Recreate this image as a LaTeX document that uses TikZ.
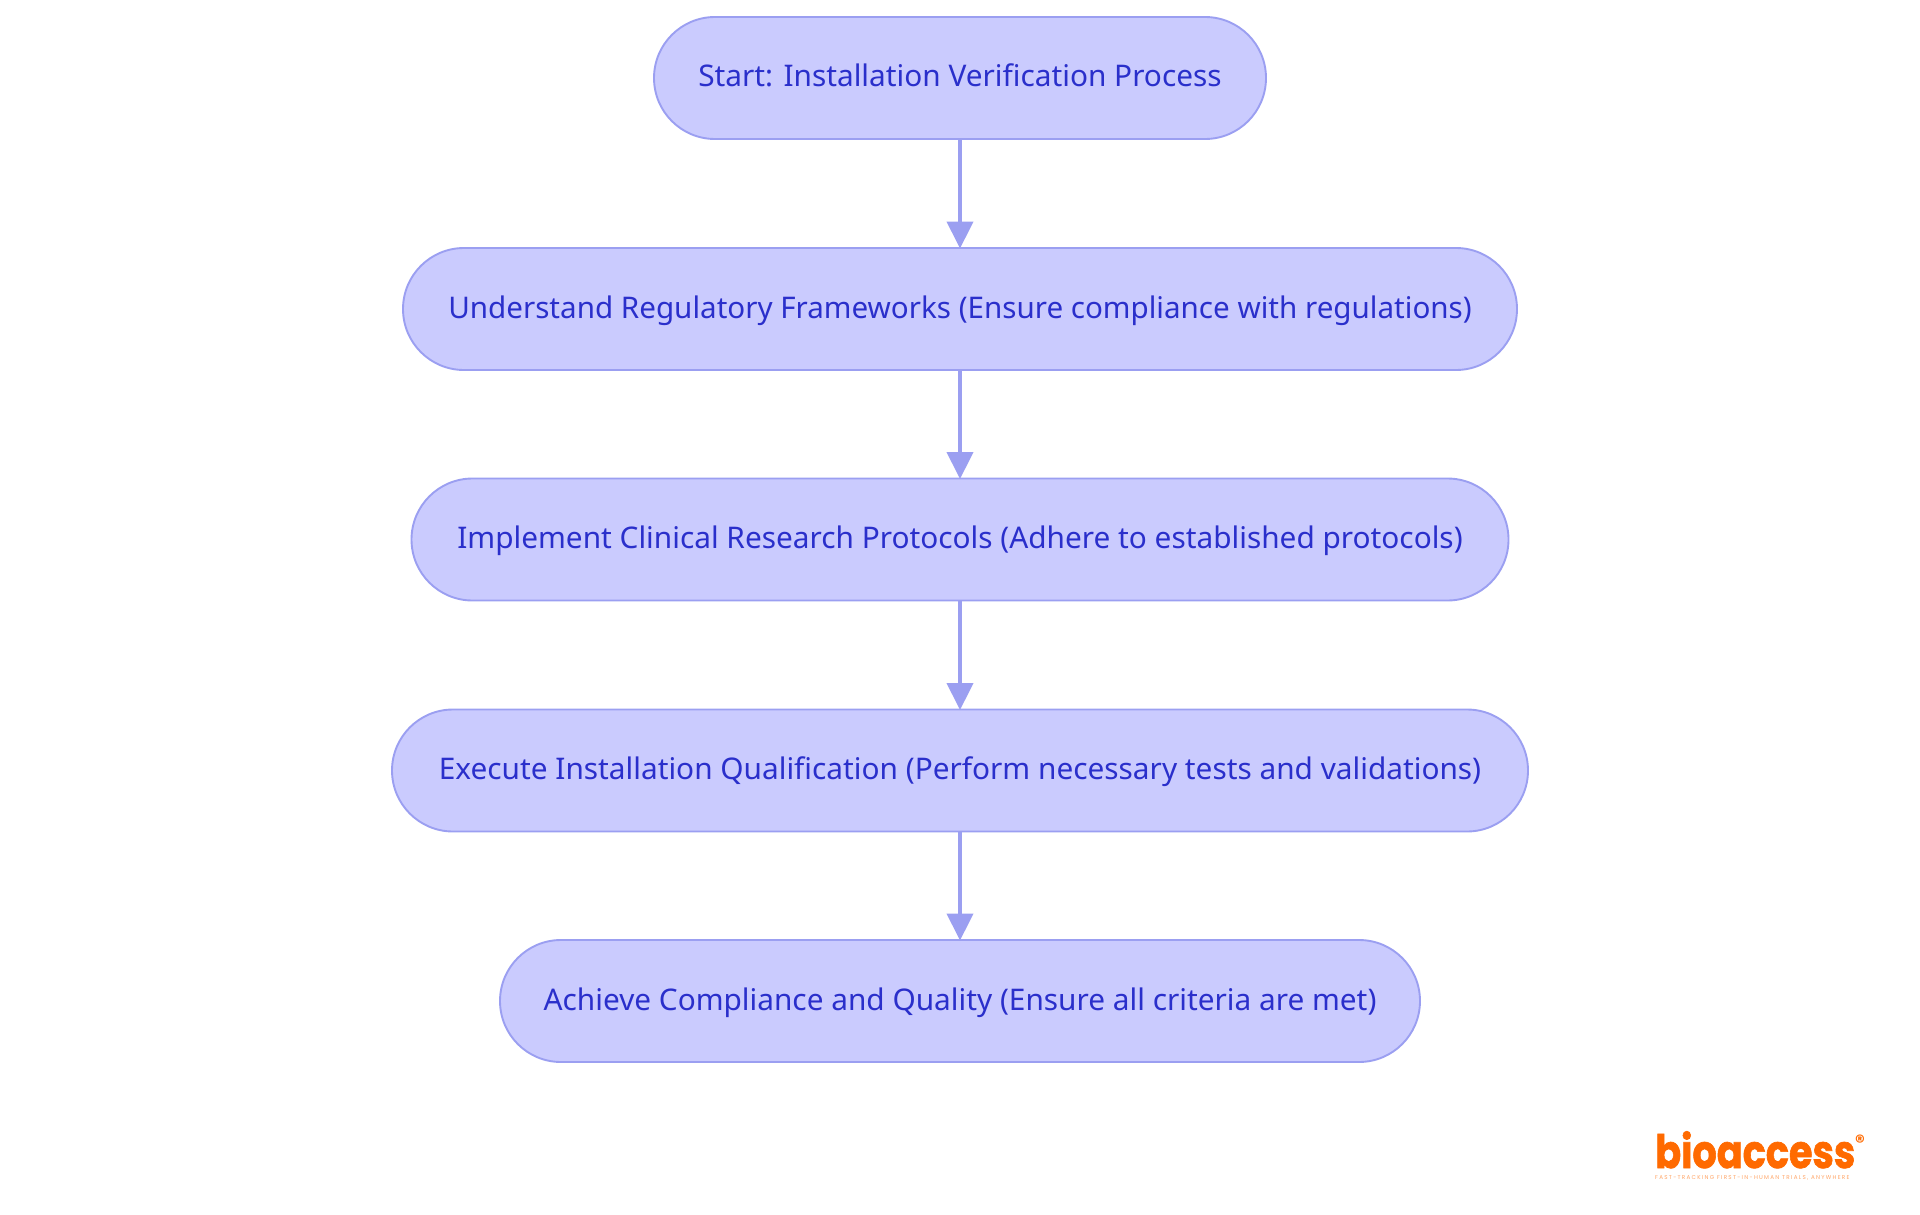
\documentclass[tikz,border=0pt]{standalone}
\usepackage{fontspec}
\usepackage{graphicx}
\setmainfont{Noto Sans}
\newfontfamily\logofont{Poppins}
\usetikzlibrary{arrows.meta,calc}
\definecolor{boxfill}{HTML}{CACBFE}
\definecolor{boxline}{HTML}{9B9FF1}
\definecolor{boxtext}{HTML}{2A2FCB}
\definecolor{logoorange}{HTML}{FF6A00}
\tikzset{
  stepbox/.style={draw=boxline,fill=boxfill,line width=1.9pt,rounded corners=61pt,
    minimum height=122pt,inner sep=0pt,text=boxtext,text height=18pt,text depth=0pt,
    font=\fontsize{29.8}{34}\selectfont,anchor=center},
  flow/.style={draw=boxline,line width=3.8pt,shorten >=-1.5pt,
    -{Triangle[length=27pt,width=26pt,fill=boxline]}},
}
\begin{document}
\begin{tikzpicture}[x=1pt,y=-1pt]
\useasboundingbox[fill=white] (0,0) rectangle (1920,1215);
\node[stepbox,minimum width=612pt] (a) at (960,78) {Start: Installation Verification Process};
\node[stepbox,minimum width=1114pt] (b) at (960,309) {\scalebox{0.993}[1]{Understand Regulatory Frameworks (Ensure compliance with regulations)}};
\node[stepbox,minimum width=1097pt] (c) at (960,539.5) {Implement Clinical Research Protocols (Adhere to established protocols)};
\node[stepbox,minimum width=1136pt] (d) at (960,770.5) {Execute Installation Qualification (Perform necessary tests and validations)};
\node[stepbox,minimum width=920pt] (e) at (960,1001) {Achieve Compliance and Quality (Ensure all criteria are met)};
\draw[flow] (a) -- (b);
\draw[flow] (b) -- (c);
\draw[flow] (c) -- (d);
\draw[flow] (d) -- (e);
\node[inner sep=0pt,anchor=base west,text=logoorange,font=\logofont\bfseries\fontsize{46}{46}\selectfont] (logo) at (1655,1168) {\addfontfeature{FakeBold=1.5}\resizebox{200pt}{\height}{bioaccess}};
\node[inner sep=0pt,anchor=center,text=logoorange,font=\logofont\bfseries\fontsize{19}{19}\selectfont] (reg) at (1860,1142) {®};
\node[inner sep=0pt,anchor=base west,text=logoorange!60,font=\logofont\fontsize{5.6}{6}\selectfont] (tag) at (1655,1179) {\addfontfeature{LetterSpace=23}FAST-TRACKING FIRST-IN-HUMAN TRIALS, ANYWHERE};
\end{tikzpicture}
\end{document}
